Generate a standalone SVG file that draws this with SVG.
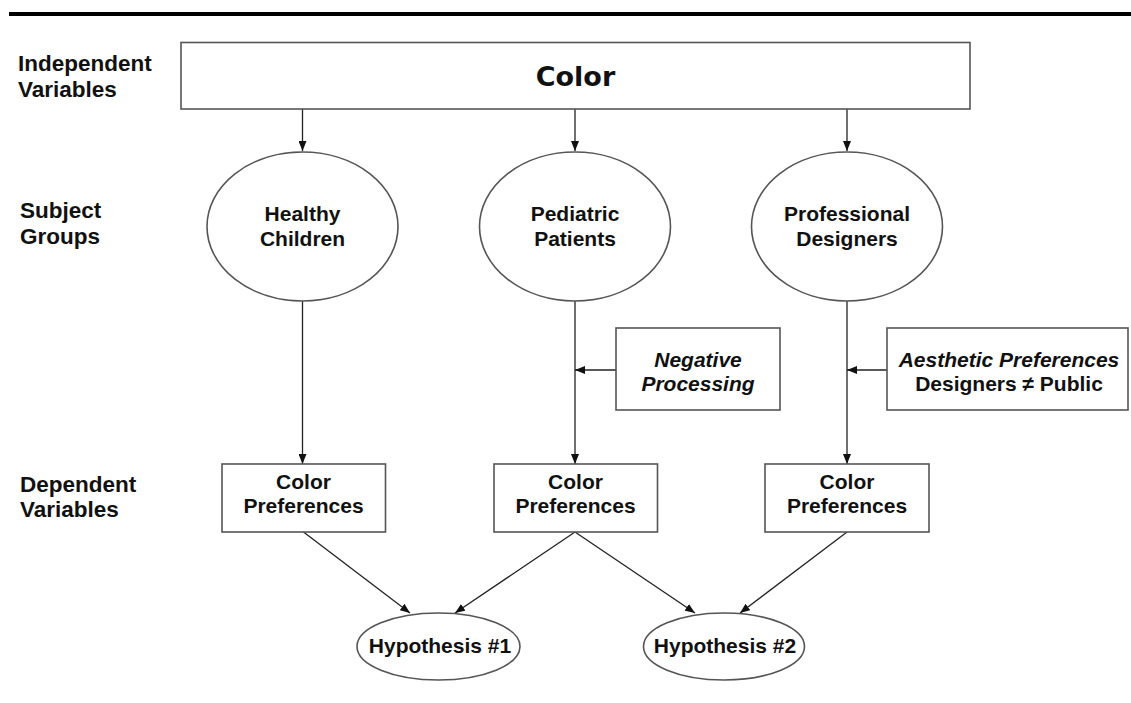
<svg xmlns="http://www.w3.org/2000/svg" width="1131" height="703" viewBox="0 0 1131 703">
  <style>
    .bg { fill: #ffffff; }
    .shape { fill: #ffffff; stroke: #555555; stroke-width: 1.6; }
    .edge { fill: none; stroke: #222222; stroke-width: 1.3; marker-end: url(#arrow); }
    .lbl { font-family: "Liberation Sans", Arial, sans-serif; font-weight: bold; font-size: 22.5px; fill: #111111; }
    .txt { font-family: "Liberation Sans", Arial, sans-serif; font-weight: bold; font-size: 21px; fill: #111111; text-anchor: middle; }
    .it { font-style: italic; }
    .title { font-family: "DejaVu Sans", Verdana, sans-serif; font-weight: bold; font-size: 27px; fill: #111111; text-anchor: middle; }
  </style>
  <defs>
    <marker id="arrow" viewBox="0 0 10 8" refX="10" refY="4" markerWidth="10" markerHeight="8" markerUnits="userSpaceOnUse" orient="auto">
      <path d="M0,0 L10,4 L0,8 z" fill="#111111"/>
    </marker>
  </defs>

  <rect class="bg" x="0" y="0" width="1131" height="703"/>

  <!-- heading rule -->
  <rect x="9" y="12" width="1122" height="4" fill="#000000"/>

  <!-- row labels -->
  <g id="row-labels">
    <text class="lbl" x="18" y="71">Independent</text>
    <text class="lbl" x="18" y="97">Variables</text>
    <text class="lbl" x="20" y="218">Subject</text>
    <text class="lbl" x="20" y="244">Groups</text>
    <text class="lbl" x="20" y="492">Dependent</text>
    <text class="lbl" x="20" y="517">Variables</text>
  </g>

  <!-- connectors -->
  <g id="connectors">
    <line class="edge" x1="302.5" y1="109" x2="302.5" y2="151"/>
    <line class="edge" x1="575" y1="109" x2="575" y2="151"/>
    <line class="edge" x1="847" y1="109" x2="847" y2="151"/>

    <line class="edge" x1="302.5" y1="301" x2="302.5" y2="464"/>
    <line class="edge" x1="575" y1="301" x2="575" y2="464"/>
    <line class="edge" x1="847" y1="301" x2="847" y2="464"/>

    <line class="edge" x1="616" y1="370" x2="575" y2="370"/>
    <line class="edge" x1="887" y1="370" x2="847" y2="370"/>

    <line class="edge" x1="303.5" y1="532" x2="410" y2="613"/>
    <line class="edge" x1="575" y1="532" x2="455" y2="613"/>
    <line class="edge" x1="575" y1="532" x2="695" y2="613"/>
    <line class="edge" x1="847" y1="532" x2="740" y2="613"/>
  </g>

  <g id="color">
    <rect class="shape" x="181" y="42.5" width="789" height="66.5"/>
    <text class="title" x="575.5" y="86">Color</text>
  </g>

  <g id="healthy-children">
    <ellipse class="shape" cx="302.5" cy="226.5" rx="95.5" ry="74.5"/>
    <text class="txt" x="302.5" y="221">Healthy</text>
    <text class="txt" x="302.5" y="246">Children</text>
  </g>

  <g id="pediatric-patients">
    <ellipse class="shape" cx="575" cy="226.5" rx="95.5" ry="74.5"/>
    <text class="txt" x="575" y="221">Pediatric</text>
    <text class="txt" x="575" y="246">Patients</text>
  </g>

  <g id="professional-designers">
    <ellipse class="shape" cx="847" cy="226.5" rx="95.5" ry="74.5"/>
    <text class="txt" x="847" y="221">Professional</text>
    <text class="txt" x="847" y="246">Designers</text>
  </g>

  <g id="negative-processing">
    <rect class="shape" x="616" y="328" width="164" height="82"/>
    <text class="txt it" x="698" y="367">Negative</text>
    <text class="txt it" x="698" y="391">Processing</text>
  </g>

  <g id="aesthetic-preferences">
    <rect class="shape" x="887" y="328" width="241" height="82"/>
    <text class="txt it" x="1009" y="367">Aesthetic Preferences</text>
    <text class="txt" x="1009" y="391">Designers ≠ Public</text>
  </g>

  <g id="preferences-healthy">
    <rect class="shape" x="222" y="464" width="163.5" height="68"/>
    <text class="txt" x="303.5" y="489">Color</text>
    <text class="txt" x="303.5" y="513">Preferences</text>
  </g>

  <g id="preferences-pediatric">
    <rect class="shape" x="494" y="464" width="163.5" height="68"/>
    <text class="txt" x="575.5" y="489">Color</text>
    <text class="txt" x="575.5" y="513">Preferences</text>
  </g>

  <g id="preferences-designers">
    <rect class="shape" x="765" y="464" width="164" height="68"/>
    <text class="txt" x="847" y="489">Color</text>
    <text class="txt" x="847" y="513">Preferences</text>
  </g>

  <g id="hypothesis-1">
    <ellipse class="shape" cx="438.5" cy="646.5" rx="81.5" ry="33.5"/>
    <text class="txt" x="440" y="653">Hypothesis #1</text>
  </g>

  <g id="hypothesis-2">
    <ellipse class="shape" cx="724" cy="646.5" rx="80.5" ry="33.5"/>
    <text class="txt" x="725" y="653">Hypothesis #2</text>
  </g>
</svg>
